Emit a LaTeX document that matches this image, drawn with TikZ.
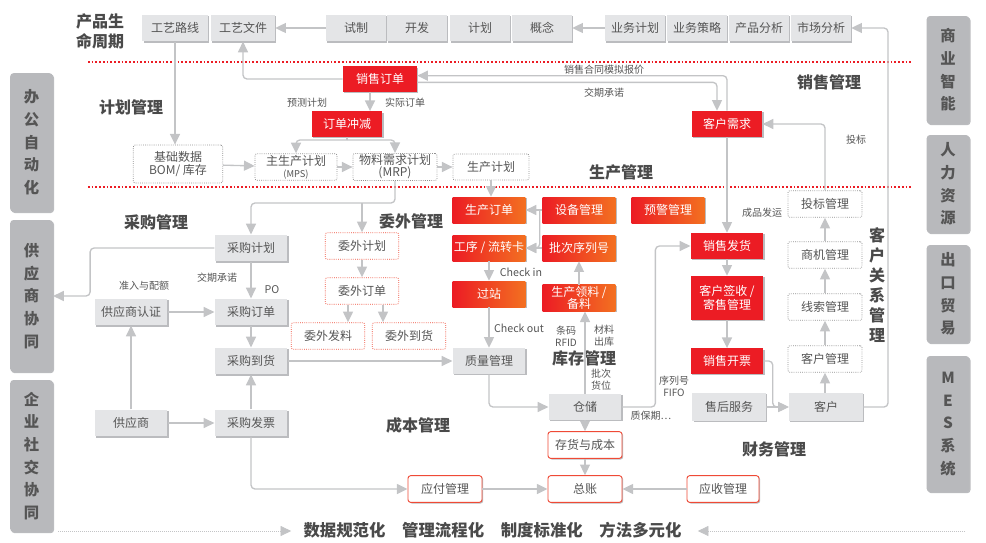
\documentclass[tikz,border=0pt]{standalone}
\usepackage{fontspec}
\setmainfont{Noto Sans CJK SC}
\usetikzlibrary{arrows.meta,positioning,shadows,calc}
\definecolor{boxgray}{HTML}{E4E5E7}
\definecolor{shadowgray}{HTML}{B4B5B8}
\definecolor{txtgray}{HTML}{555555}
\definecolor{titlegray}{HTML}{4A4A4A}
\definecolor{salesred}{HTML}{EC1C24}
\definecolor{prodorange}{HTML}{F37021}
\definecolor{outred}{HTML}{EF4A36}
\definecolor{dotgray}{HTML}{8E8E8E}
\definecolor{barfill}{HTML}{B8B9BC}
\definecolor{linegray}{HTML}{C3C4C6}
\tikzset{
  base/.style={rectangle, align=center, inner sep=1pt, text=txtgray,
    font=\fontsize{9}{10}\selectfont, minimum width=54.5pt, minimum height=20pt},
  shade/.style={drop shadow={shadow xshift=0.9pt, shadow yshift=-0.9pt,
    fill=shadowgray, opacity=0.9}},
  gbox/.style={base, shade, fill=boxgray},
  rbox/.style={base, shade, fill=salesred, text=white},
  obox/.style={base, shade, left color=salesred, right color=prodorange, text=white},
  dbox/.style={base, fill=white, draw=dotgray, densely dotted, line width=0.6pt,
    rounded corners=1.5pt},
  wbox/.style={dbox, draw=outred},
  fbox/.style={base, shade, fill=white, draw=outred, line width=0.7pt, rounded corners=2pt},
  bar/.style={rectangle, rounded corners=2.5pt, shade, fill=barfill, text=txtgray,
    font=\fontsize{11.5}{17}\selectfont\bfseries, align=center, minimum width=32pt},
  sect/.style={text=titlegray, font=\fontsize{12}{15}\selectfont\bfseries, inner sep=0pt,
    align=center},
  lbl/.style={text=txtgray, font=\fontsize{7.5}{9}\selectfont, inner sep=0pt, align=center},
  line/.style={draw=linegray, line width=1pt, rounded corners=3pt},
  flow/.style={line, -{Triangle[length=8pt, width=7.5pt]}},
  reddots/.style={draw=salesred, line width=1.3pt, dash pattern=on 1.3pt off 1.5pt},
  dotflow/.style={draw=linegray, line width=0.5pt, densely dotted,
    -{Triangle[length=8pt, width=7.5pt]}},
}
\begin{document}
\begin{tikzpicture}[x=0.75pt, y=-0.75pt]
\useasboundingbox (0,0) rectangle (986,543);
% Side bars
\node[bar, minimum height=104pt] (bgzdh) at (31.5,142.5) {办\\公\\自\\动\\化};
\node[bar, minimum height=114pt] (gysxt) at (31.5,296) {供\\应\\商\\协\\同};
\node[bar, minimum height=114pt] (qysj)  at (31.5,456) {企\\业\\社\\交\\协\\同};
\node[bar, minimum height=81pt]  (syzn)  at (948,70)  {商\\业\\智\\能};
\node[bar, minimum height=73.5pt] (rlzy) at (948,184) {人\\力\\资\\源};
\node[bar, minimum height=73.5pt] (ckmy) at (948,294) {出\\口\\贸\\易};
\node[bar, minimum height=102pt] (mes)   at (948,424) {M\\E\\S\\系\\统};
% Separators
\draw[reddots] (88,62) -- (913,62);
\draw[reddots] (88,187) -- (913,187);
% Product lifecycle row
\node[sect] (plc) at (100,31) {产品生\\命周期};
\node[gbox, minimum width=49pt] (gylx) at (175,28) {工艺路线};
\node[gbox, minimum width=48pt] (gywj) at (243,28) {工艺文件};
\node[gbox, minimum width=45pt] (sz)   at (356,28) {试制};
\node[gbox, minimum width=45pt] (kf)   at (417,28) {开发};
\node[gbox, minimum width=45pt] (jh)   at (480,28) {计划};
\node[gbox, minimum width=45pt] (gn)   at (542,28) {概念};
\node[gbox, minimum width=45pt] (ywjh) at (635,28) {业务计划};
\node[gbox, minimum width=45pt] (ywcl) at (697,28) {业务策略};
\node[gbox, minimum width=45pt] (cpfx) at (759,28) {产品分析};
\node[gbox, minimum width=45pt] (scfx) at (821,28) {市场分析};
% Planning
\node[sect] (t-jh) at (131,107) {计划管理};
\node[rbox, minimum width=55.5pt, minimum height=19pt] (xsdd) at (380,79) {销售订单};
\node[rbox, minimum width=53pt, minimum height=19pt] (ddcj) at (347,124) {订单冲减};
\node[dbox, minimum width=67pt, minimum height=28.5pt] (jcsj) at (178,164) {基础数据\\BOM/ 库存};
\node[dbox, minimum width=61.5pt, minimum height=19.5pt,
      font=\fontsize{9}{9}\selectfont] (mps) at (296,167) {主生产计划\\{\fontsize{7}{7}\selectfont (MPS)}};
\node[dbox, minimum width=63pt, minimum height=19.5pt,
      font=\fontsize{9}{9}\selectfont] (mrp) at (395,167) {物料需求计划\\(MRP)};
\node[dbox, minimum width=57pt, minimum height=19.5pt] (scjh) at (491,167) {生产计划};
\node[lbl] (l-yc) at (307,103) {预测计划};
\node[lbl] (l-sj) at (405,103) {实际订单};
% Sales
\node[sect] (t-xs) at (829,82) {销售管理};
\node[rbox, minimum width=53pt, minimum height=19.5pt] (khxq) at (727,124) {客户需求};
\node[lbl] (l-bj) at (604,70) {销售合同模拟报价};
\node[lbl] (l-jq) at (604,93) {交期承诺};
\node[lbl] (l-tb) at (856,140) {投标};
\node[rbox, minimum height=19.5pt] (xsfh) at (727,246) {销售发货};
\node[rbox, minimum height=33pt] (khqs) at (727,298) {客户签收 /\\寄售管理};
\node[rbox, minimum height=19pt] (xskp) at (727,361) {销售开票};
\node[gbox, minimum width=55pt, minimum height=21pt] (shfw) at (729,407) {售后服务};
\node[gbox, minimum width=55.5pt, minimum height=21pt] (kh) at (826,407) {客户};
\node[lbl] (l-cp) at (762,213) {成品发运};
% Customer relations
\node[sect, font=\fontsize{12}{14.9}\selectfont\bfseries] (t-crm) at (877,285) {客\\户\\关\\系\\管\\理};
\node[dbox, minimum width=55.5pt] (tbgl) at (825,204) {投标管理};
\node[dbox, minimum width=55.5pt] (sjgl) at (825,255) {商机管理};
\node[dbox, minimum width=55.5pt] (xsgl) at (825,307) {线索管理};
\node[dbox, minimum width=55.5pt] (khgl) at (825,359) {客户管理};
% Production
\node[sect] (t-sc) at (621,172) {生产管理};
\node[obox, minimum height=19.5pt] (scdd) at (489,210) {生产订单};
\node[obox, minimum height=19.5pt] (sbgl) at (579,210) {设备管理};
\node[obox, minimum height=19.5pt] (yjgl) at (668,210) {预警管理};
\node[obox, minimum height=19.5pt] (gx)   at (489,248) {工序 / 流转卡};
\node[obox, minimum height=19.5pt] (pcxl) at (579,248) {批次序列号};
\node[obox, minimum height=19.5pt] (gz)   at (489,294) {过站};
\node[obox, minimum height=19.5pt, font=\fontsize{9}{9.5}\selectfont] (scll) at (579,298) {生产领料 /\\备料};
\node[lbl, font=\fontsize{8}{9}\selectfont] (l-ci) at (521,272) {Check in};
\node[lbl, font=\fontsize{8}{9}\selectfont] (l-co) at (519,328) {Check out};
% Purchasing
\node[sect] (t-cg) at (156,222) {采购管理};
\node[gbox] (cgjh)  at (251,248) {采购计划};
\node[gbox] (cgdd)  at (251,312) {采购订单};
\node[gbox] (cgdh)  at (251,361) {采购到货};
\node[gbox] (cgfp)  at (251,423) {采购发票};
\node[gbox] (gysrz) at (131,312) {供应商认证};
\node[gbox] (gys)   at (131,423) {供应商};
\node[lbl] (l-zr) at (144,286) {准入与配额};
\node[lbl] (l-jc) at (217,278) {交期承诺};
\node[lbl, font=\fontsize{8}{9}\selectfont] (l-po) at (272,290) {PO};
% Outsourcing
\node[sect] (t-ww) at (411,221) {委外管理};
\node[wbox, minimum width=55pt] (wwjh) at (362,246) {委外计划};
\node[wbox, minimum width=55pt] (wwdd) at (362,291) {委外订单};
\node[wbox, minimum width=55pt] (wwfl) at (328,336) {委外发料};
\node[wbox, minimum width=55pt] (wwdh) at (409,336) {委外到货};
% Inventory
\node[gbox, minimum height=19.5pt] (zlgl) at (489,361) {质量管理};
\node[gbox, minimum height=19.5pt] (cc)   at (585,407) {仓储};
\node[sect, fill=white, inner sep=1pt] (t-kc) at (584,358) {库存管理};
\node[lbl] (l-tm) at (566,336) {条码\\RFID};
\node[lbl] (l-cl) at (604,336) {材料\\出库};
\node[lbl] (l-pc) at (601,380) {批次\\货位};
\node[lbl] (l-xl) at (674,386) {序列号\\FIFO};
\node[lbl] (l-zb) at (651,416) {质保期…};
% Cost and finance
\node[sect] (t-cb) at (418,425) {成本管理};
\node[sect] (t-cw) at (774,449) {财务管理};
\node[fbox, minimum width=55.5pt] (chcb) at (585,445) {存货与成本};
\node[fbox, minimum width=55.5pt] (zz)   at (585,489) {总账};
\node[fbox, minimum width=55.5pt] (yfgl) at (445,489) {应付管理};
\node[fbox, minimum width=54pt]   (ysgl) at (723,489) {应收管理};
% Motto
\node[text=titlegray, font=\fontsize{12.3}{14}\selectfont\bfseries, inner sep=0pt] (motto) at (492.5,530)
  {数据规范化\hspace{12.5pt}管理流程化\hspace{12.5pt}制度标准化\hspace{12.5pt}方法多元化};
\coordinate (dl) at (58,531);
\coordinate (dr) at (965,531);
\draw[dotflow, shorten >=9pt] (dl) -- (motto.west |- dl);
\draw[dotflow, shorten >=12pt] (dr) -- (motto.east |- dr);
% Lifecycle flow
\draw[flow] (sz.west) -- (gywj.east);
\draw[flow] (ywjh.west) -- (gn.east);
\draw[flow] (kh.east) -| (888,28) -- (scfx.east);
\draw[flow] (gylx.south) -- (gylx.south |- jcsj.north);
\draw[flow] (xsdd.west) -| (gywj.south);
% Planning flow
\draw[flow] (khxq.north) |- ([yshift=2.5pt]xsdd.east);
\draw[flow] ([yshift=-2.5pt]xsdd.east) -| ([xshift=-7.5pt]khxq.north);
\draw[flow] ([xshift=-7.5pt]xsdd.south) -- ([xshift=-7.5pt]xsdd.south |- ddcj.north);
\coordinate (cj) at ($(ddcj.south)+(0,3)$);
\draw[line] (ddcj.south) -- (cj);
\draw[flow] (cj) -| (mps.north);
\draw[flow] (cj) -| (mrp.north);
\draw[flow] (jcsj) -- (mps);
\draw[flow] (mps) -- (mrp);
\draw[flow] (mrp) -- (scjh);
\coordinate (fork) at (362,203);
\draw[flow] (mrp.south) |- (fork) -| (cgjh.north);
\draw[flow] (fork) -- (wwjh.north);
\draw[flow] (scjh.south) -- (scjh.south |- scdd.north);
% Production flow
\draw[flow] (sbgl.west) -- (scdd.east);
\draw[flow] ([xshift=-2pt]sbgl.west) |- (gx.east);
\draw[flow] (pcxl.west) -- (gx.east);
\draw[flow] (gx) -- (gz);
\draw[flow] (gz.south) -- (zlgl.north);
\draw[flow] (scll) -- (pcxl);
% Purchasing and outsourcing flow
\draw[flow] (cgjh.west) -| ($(gysxt.east)+(37,0)$) -- (gysxt.east);
\draw[flow] (cgjh) -- (cgdd);
\draw[flow] (gysrz) -- (cgdd);
\draw[flow] (cgdd) -- (cgdh);
\draw[flow] (cgfp) -- (cgdh);
\draw[flow] (gys) -- (cgfp);
\draw[flow] (gys) -- (gysrz);
\draw[flow] (cgdh) -- (zlgl);
\draw[flow] (wwjh) -- (wwdd);
\draw[flow] ([xshift=-10.5pt]wwdd.south) -- ([xshift=-10.5pt]wwdd.south |- wwfl.north);
\draw[flow] ([xshift=15.75pt]wwdd.south) -- ([xshift=15.75pt]wwdd.south |- wwdh.north);
% Inventory flow
\draw[flow] (zlgl.south) |- (cc.west);
\draw[flow] (cc.north) -- (cc.north |- scll.south);
\draw[flow] (cc.east) -| ($(xsfh.west)+(-35,0)$) -- (xsfh.west);
\draw[flow] (cc) -- (chcb);
\draw[flow] (chcb) -- (zz);
% Sales flow
\draw[flow] (khxq) -- (xsfh);
\draw[flow] (xsfh) -- (khqs);
\draw[flow] (khqs) -- (xskp);
\draw[flow] (xskp.east) -| ($(kh.west)+(-16,0)$) -- (kh.west);
\draw[flow] (shfw) -- (kh);
\draw[flow] (kh.north -| khgl) -- (khgl);
\draw[flow] (khgl) -- (xsgl);
\draw[flow] (xsgl) -- (sjgl);
\draw[flow] (sjgl) -- (tbgl);
\draw[flow] (tbgl.north) |- (khxq.east);
% Finance flow
\draw[flow] (cgfp.south) |- (yfgl.west);
\draw[flow] (yfgl) -- (zz);
\draw[flow] (ysgl) -- (zz);
\end{tikzpicture}
\end{document}
